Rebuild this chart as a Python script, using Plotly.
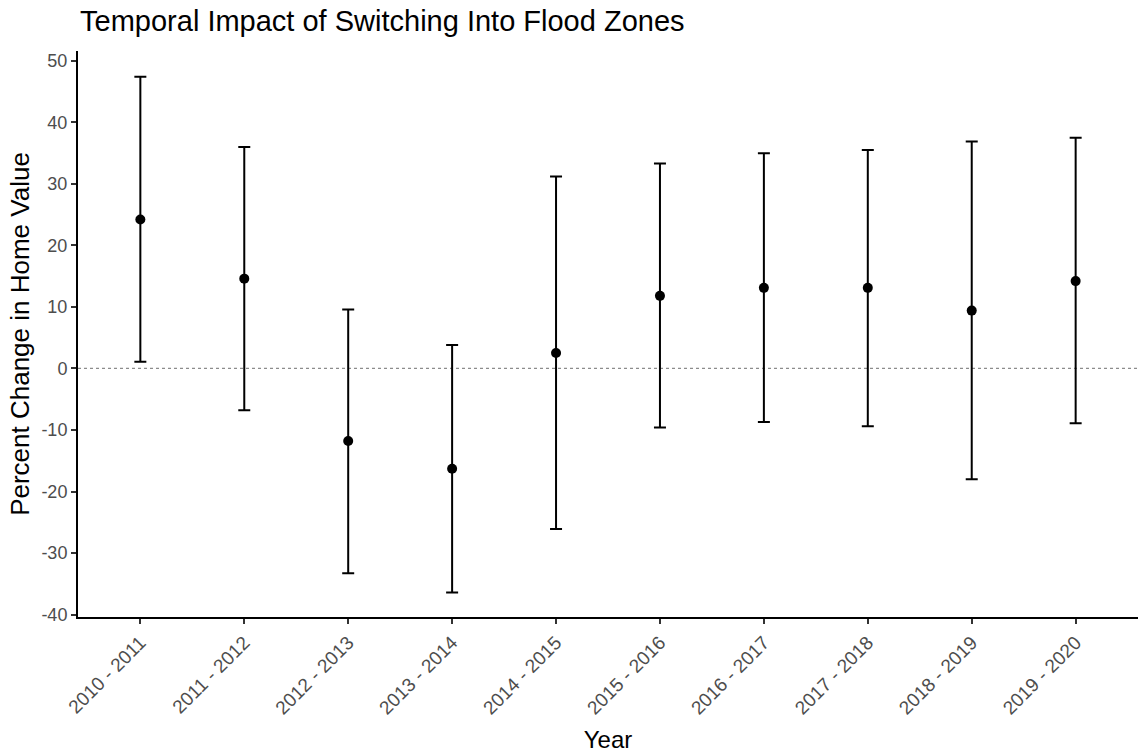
import plotly.graph_objects as go

years = ["2010 - 2011", "2011 - 2012", "2012 - 2013", "2013 - 2014", "2014 - 2015",
         "2015 - 2016", "2016 - 2017", "2017 - 2018", "2018 - 2019", "2019 - 2020"]
estimate = [24.2, 14.6, -11.8, -16.3, 2.5, 11.8, 13.1, 13.1, 9.4, 14.2]
upper = [47.4, 36.0, 9.6, 3.8, 31.2, 33.3, 35.0, 35.5, 36.9, 37.5]
lower = [1.1, -6.8, -33.3, -36.4, -26.1, -9.6, -8.7, -9.4, -18.0, -8.9]
y_ticks = [-40, -30, -20, -10, 0, 10, 20, 30, 40, 50]
y_ticktext = [str(v) for v in y_ticks]

err_plus = [u - e for u, e in zip(upper, estimate)]
err_minus = [e - l for e, l in zip(estimate, lower)]

fig = go.Figure()
fig.add_trace(go.Scatter(
    x=years, y=estimate, mode="markers",
    marker=dict(color="black", size=10),
    error_y=dict(type="data", symmetric=False, array=err_plus, arrayminus=err_minus,
                 color="black", thickness=2, width=6),
    showlegend=False,
))
fig.add_hline(y=0, line=dict(color="#8c8c8c", width=1.3, dash="dot"), layer="below")

font_family = "Liberation Sans, Arial, sans-serif"
fig.update_layout(
    width=1139, height=753,
    margin=dict(l=78, r=1, t=51, b=136),
    paper_bgcolor="white", plot_bgcolor="white",
    font=dict(family=font_family),
    title=dict(text="Temporal Impact of Switching Into Flood Zones",
               x=0.0703, xanchor="left", y=0.972, yanchor="middle",
               font=dict(size=29, color="black", family=font_family)),
    xaxis=dict(
        type="category", range=[-0.6, 9.6],
        showline=True, linecolor="black", linewidth=2,
        ticks="outside", ticklen=5, tickcolor="#333333", tickwidth=1.5,
        tickangle=-45, tickfont=dict(size=19, color="#4d4d4d"),
        showgrid=False, zeroline=False,
        title=dict(text="Year", font=dict(size=24, color="black"), standoff=14),
    ),
    yaxis=dict(
        range=[-40.4, 51.6], tickvals=y_ticks, ticktext=y_ticktext,
        showline=True, linecolor="black", linewidth=2,
        ticks="outside", ticklen=5, tickcolor="#333333", tickwidth=1.5,
        tickfont=dict(size=18, color="#4d4d4d"),
        showgrid=False, zeroline=False,
        title=dict(text="Percent Change in Home Value", font=dict(size=26, color="black"), standoff=4),
    ),
)

fig.write_html("out.html")
